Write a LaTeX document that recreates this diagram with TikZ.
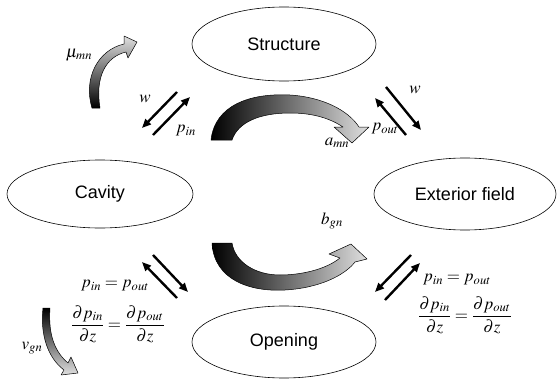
\documentclass[tikz,border=0pt]{standalone}
\usepackage{amsmath}
\usepackage{mathptmx}
\usepackage[no-math]{fontspec}
\setmainfont{Liberation Sans}
\usetikzlibrary{shapes.geometric,arrows.meta}

\begin{document}
\begin{tikzpicture}[x=1pt,y=-1pt,line cap=round,line join=round,
  region/.style={draw,ellipse,line width=0.6pt,inner sep=0pt,font=\fontsize{18}{20}\selectfont},
  pair/.style={line width=2.4pt,line cap=butt,-{Triangle[length=9pt,width=7.5pt]}},
  lbl/.style={inner sep=0pt,font=\fontsize{17}{20}\selectfont},
  bigarrow/.style={draw=black,line width=0.5pt,left color=black,middle color=black!75,right color=gray!25},
  smallarrow/.style={draw=black,line width=0.5pt}]
  \useasboundingbox (0,0) rectangle (558,380);

  \node[region,minimum width=184pt,minimum height=74pt] (structure) at (284,44) {Structure};
  \node[region,minimum width=186pt,minimum height=68pt] (cavity) at (100,194) {Cavity};
  \node[region,minimum width=182pt,minimum height=72pt] (exterior) at (465,194) {Exterior field};
  \node[region,minimum width=184pt,minimum height=72pt] (opening) at (284,342) {Opening};

  \coordinate (csA) at (177,92);  \coordinate (csB) at (142,128);
  \coordinate (csC) at (153,135); \coordinate (csD) at (190,97);
  \coordinate (esA) at (406,135); \coordinate (esB) at (375,98);
  \coordinate (esC) at (386,87);  \coordinate (esD) at (421,130);
  \coordinate (coA) at (177,298); \coordinate (coB) at (142,262);
  \coordinate (coC) at (153,255); \coordinate (coD) at (188,292);
  \coordinate (eoA) at (411,255); \coordinate (eoB) at (375,292);
  \coordinate (eoC) at (385,300); \coordinate (eoD) at (420,263);
  \draw[pair] (csA) -- (csB);
  \draw[pair] (csC) -- (csD);
  \draw[pair] (esA) -- (esB);
  \draw[pair] (esC) -- (esD);
  \draw[pair] (coA) -- (coB);
  \draw[pair] (coC) -- (coD);
  \draw[pair] (eoA) -- (eoB);
  \draw[pair] (eoC) -- (eoD);

  \shade[bigarrow] (211,140) .. controls (215,105) and (250,93) .. (290,95)
    .. controls (322,97) and (348,110) .. (359,127) -- (369,127) -- (352,143)
    -- (334,127) -- (343,127) .. controls (328,117) and (310,113) .. (290,113)
    .. controls (260,113) and (238,122) .. (232,140) -- cycle;
  \shade[bigarrow] (212,243) .. controls (214,280) and (250,292) .. (285,290)
    .. controls (320,288) and (345,275) .. (355,262) -- (367,259) -- (351,244)
    -- (329,254) -- (340,258) .. controls (325,270) and (300,275) .. (280,275)
    .. controls (255,275) and (235,262) .. (232,243) -- cycle;
  \shade[smallarrow,top color=gray!25,bottom color=black] (92,108)
    .. controls (83,78) and (98,50) .. (124,44) -- (124,36) -- (137,42)
    -- (128,58) -- (126,52) .. controls (105,57) and (95,78) .. (100,108) -- cycle;
  \shade[smallarrow,top color=black,bottom color=gray!25] (43,308)
    .. controls (40,335) and (48,358) .. (64,370) -- (61,375) -- (78,373)
    -- (71,357) -- (68,363) .. controls (55,352) and (48,335) .. (50,308) -- cycle;

  \node[lbl] (mu) at (79,55) {$\mu_{mn}$};
  \node[lbl] (wcs) at (145,99) {$w$};
  \node[lbl] (pcs) at (186,131) {$p_{in}$};
  \node[lbl] (wes) at (415,90) {$w$};
  \node[lbl] (pes) at (385,129) {$p_{out}$};
  \node[lbl] (amn) at (337,143) {$a_{mn}$};
  \node[lbl] (bgn) at (332,221) {$b_{gn}$};
  \node[lbl] (vgn) at (32,348) {$v_{gn}$};
  \node[lbl] (eqco) at (115,286) {$p_{in}=p_{out}$};
  \node[lbl] (dco) at (118,324) {$\dfrac{\partial p_{in}}{\partial z}=\dfrac{\partial p_{out}}{\partial z}$};
  \node[lbl] (eqeo) at (457,280) {$p_{in}=p_{out}$};
  \node[lbl] (deo) at (465,315) {$\dfrac{\partial p_{in}}{\partial z}=\dfrac{\partial p_{out}}{\partial z}$};
\end{tikzpicture}
\end{document}
